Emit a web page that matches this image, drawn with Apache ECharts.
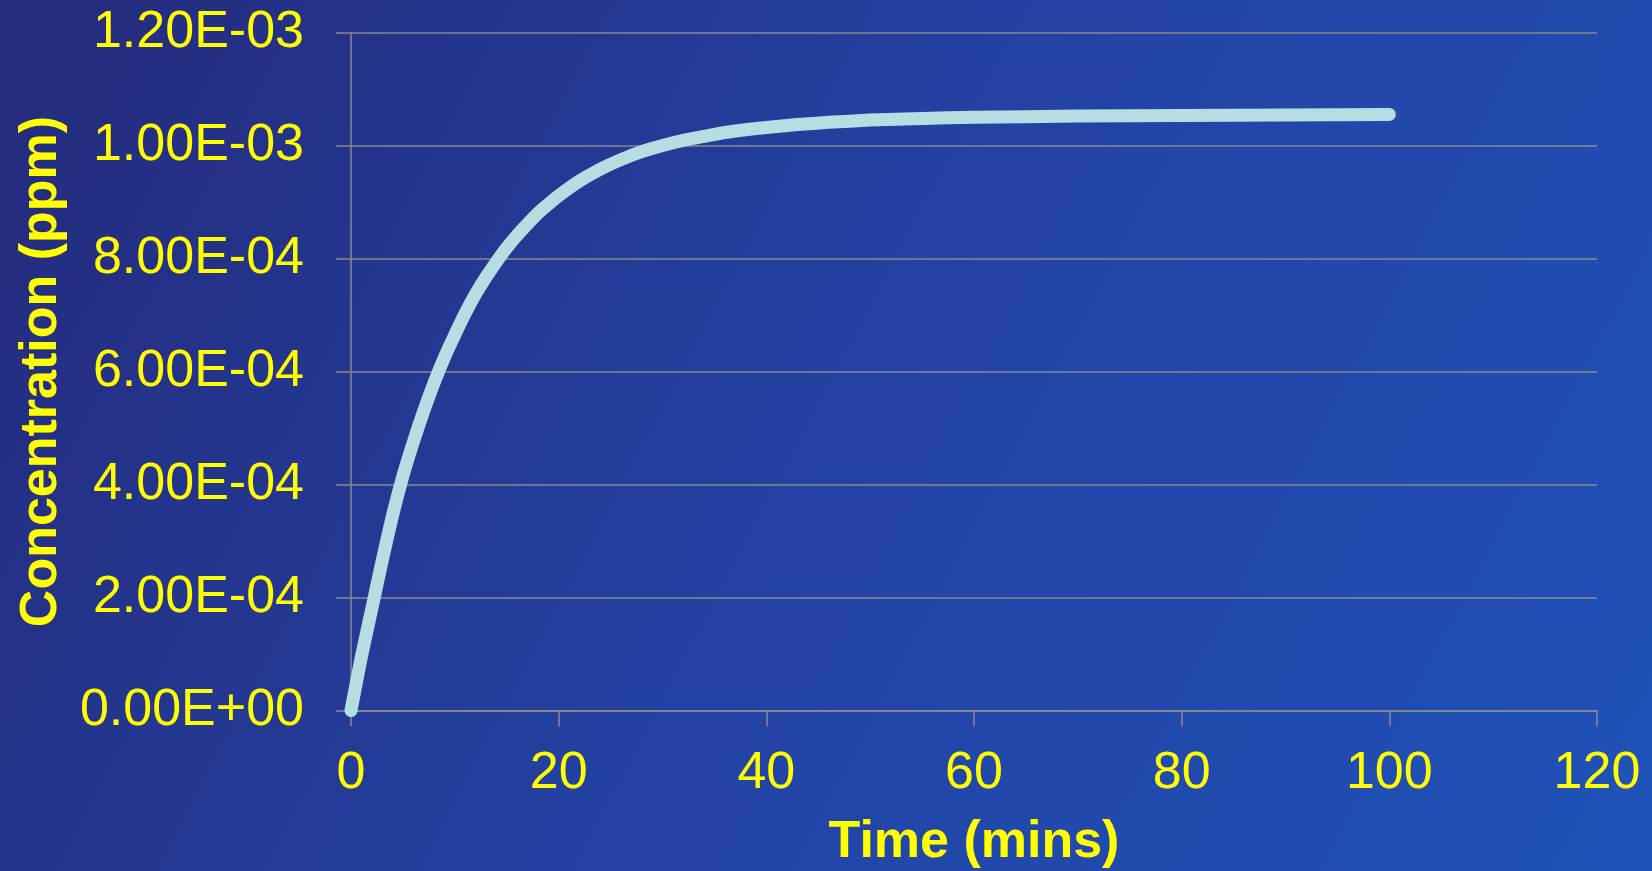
<!DOCTYPE html>
<html>
<head>
<meta charset="utf-8">
<script src="https://cdn.jsdelivr.net/npm/echarts@6/dist/echarts.min.js"></script>
<style>
html,body{margin:0;padding:0;width:1652px;height:871px;overflow:hidden;}
#c{width:1652px;height:871px;}
</style>
</head>
<body>
<div id="c"></div>
<script>
// Time (mins)
var timeMins = [0, 1, 2, 3, 4, 5, 6, 7, 8, 9, 10, 11, 12, 13, 14, 15, 16, 17, 18, 19, 20, 22, 24, 26, 28, 30, 32, 34, 36, 38, 40, 43, 46, 50, 55, 60, 70, 80, 90, 100];
// Concentration (ppm)
var concPpm = [0, 0.95e-4, 1.8e-4, 2.65e-4, 3.45e-4, 4.15e-4, 4.75e-4, 5.3e-4, 5.8e-4, 6.25e-4, 6.65e-4, 7.03e-4, 7.37e-4, 7.67e-4, 7.94e-4, 8.19e-4, 8.41e-4, 8.61e-4, 8.8e-4, 8.96e-4, 9.11e-4, 9.37e-4, 9.58e-4, 9.75e-4, 9.89e-4, 10.0e-4, 10.09e-4, 10.16e-4, 10.23e-4, 10.28e-4, 10.32e-4, 10.37e-4, 10.41e-4, 10.45e-4, 10.48e-4, 10.5e-4, 10.52e-4, 10.53e-4, 10.54e-4, 10.55e-4];
var yTickLabels = ['0.00E+00', '2.00E-04', '4.00E-04', '6.00E-04', '8.00E-04', '1.00E-03', '1.20E-03'];

var points = timeMins.map(function (t, i) { return [t, concPpm[i]]; });

var chart = echarts.init(document.getElementById('c'));
var font = '"Liberation Sans", Arial, sans-serif';
chart.setOption({
  backgroundColor: new echarts.graphic.LinearGradient(0, 0, 1, 1, [
    { offset: 0, color: '#252a7b' },
    { offset: 0.5, color: '#2342a3' },
    { offset: 1, color: '#1f52b9' }
  ]),
  animation: false,
  grid: { left: 351, right: 55, top: 32.5, bottom: 160.5, containLabel: false, outerBoundsMode: 'none' },
  xAxis: {
    type: 'value',
    min: 0, max: 120, interval: 20,
    name: 'Time (mins)',
    nameLocation: 'middle',
    nameGap: 106,
    nameTextStyle: { color: '#ffff00', fontFamily: font, fontWeight: 'bold', fontSize: 52 },
    axisLine: { show: true, onZero: false, lineStyle: { color: '#8a8a8a', width: 1.5 } },
    axisTick: { show: true, length: 16, lineStyle: { color: '#8a8a8a', width: 1.5 } },
    axisLabel: { color: '#ffff00', fontFamily: font, fontSize: 52, margin: 37 },
    splitLine: { show: false }
  },
  yAxis: {
    type: 'value',
    min: 0, max: 1.2e-3, interval: 2e-4,
    name: 'Concentration (ppm)',
    nameLocation: 'middle',
    nameGap: 283,
    nameRotate: 90,
    nameTextStyle: { color: '#ffff00', fontFamily: font, fontWeight: 'bold', fontSize: 52 },
    axisLine: { show: true, lineStyle: { color: '#8a8a8a', width: 1.5 } },
    axisTick: { show: true, length: 15, lineStyle: { color: '#8a8a8a', width: 1.5 } },
    axisLabel: {
      color: '#ffff00', fontFamily: font, fontSize: 52, margin: 47,
      formatter: function (v) {
        var idx = Math.round(v / 2e-4);
        return yTickLabels[idx] !== undefined ? yTickLabels[idx] : '';
      }
    },
    splitLine: { show: true, lineStyle: { color: '#8a8a8a', width: 1.5 } }
  },
  series: [{
    type: 'line',
    data: points,
    smooth: 0.2,
    showSymbol: false,
    symbol: 'none',
    lineStyle: { color: '#b6dde1', width: 13, cap: 'round', join: 'round' }
  }]
});
</script>
</body>
</html>
